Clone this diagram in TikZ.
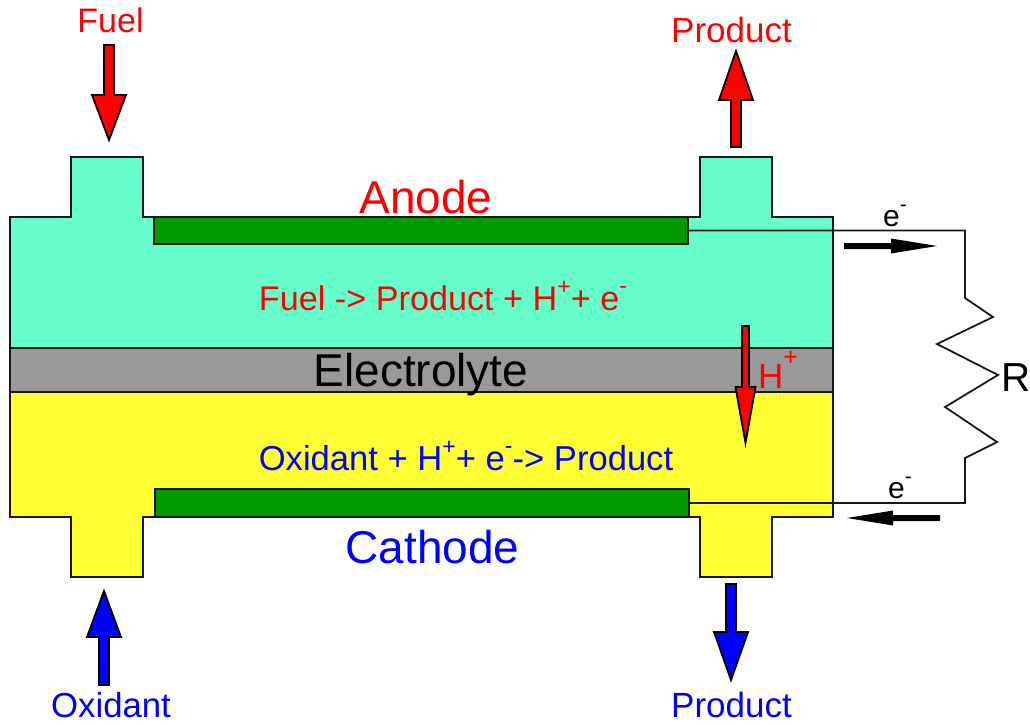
\documentclass[tikz,border=0pt]{standalone}
\usepackage{fontspec}
\setmainfont{Liberation Sans}
\definecolor{aquafill}{RGB}{102,255,204}
\definecolor{yellowfill}{RGB}{255,255,51}
\definecolor{grayfill}{RGB}{153,153,153}
\definecolor{greenfill}{RGB}{0,153,0}
\definecolor{flowblue}{RGB}{0,0,255}
\definecolor{flowred}{RGB}{255,0,0}
\newcommand{\fsz}[1]{\fontsize{#1}{#1}\selectfont}
% raised small text: raise, size, text
\newcommand{\sups}[3]{\raisebox{#1pt}{\fsz{#2}#3}}
% vertical block arrow: colour, x, tail y, neck y, tip y, shaft half-width, head half-width
\newcommand{\varrow}[7]{\draw[blockline,fill=#1] (#2-#6,#3) -- (#2+#6,#3) -- (#2+#6,#4) -- (#2+#7,#4) -- (#2,#5) -- (#2-#7,#4) -- (#2-#6,#4) -- cycle;}
% horizontal block arrow: y, tail x, neck x, tip x, shaft half-width, head half-width
\newcommand{\harrow}[6]{\fill (#2,#1-#5) -- (#3,#1-#5) -- (#3,#1-#6) -- (#4,#1) -- (#3,#1+#6) -- (#3,#1+#5) -- (#2,#1+#5) -- cycle;}
\tikzset{
  blockline/.style={draw=black,line width=1.8pt,line join=miter},
  panel/.style={draw=black!90,line width=1.8pt,line join=miter,outer sep=0pt},
  wire/.style={draw=black!90,line width=1.8pt,line join=miter},
  txt/.style={inner sep=0pt,anchor=base},
}
\begin{document}
\begin{tikzpicture}[x=1pt,y=-1pt]
\useasboundingbox (0,0) rectangle (1030,725);
% bodies
\draw[panel,fill=aquafill] (10,348) -- (10,217) -- (71,217) -- (71,157) -- (143,157) -- (143,217) -- (700,217) -- (700,157) -- (772,157) -- (772,217) -- (833,217) -- (833,348) -- cycle;
\draw[panel,fill=yellowfill] (10,392) -- (10,517) -- (71,517) -- (71,577) -- (143,577) -- (143,517) -- (700,517) -- (700,577) -- (772,577) -- (772,517) -- (833,517) -- (833,392) -- cycle;
\node[panel,fill=grayfill,minimum width=823pt,minimum height=44pt,inner sep=0pt,anchor=north west] (electrolyte) at (10,348) {};
\node[panel,fill=greenfill,minimum width=534pt,minimum height=27pt,inner sep=0pt,anchor=north west] (anodeplate) at (154,217) {};
\node[panel,fill=greenfill,minimum width=534pt,minimum height=28pt,inner sep=0pt,anchor=north west] (cathodeplate) at (155,489) {};
% circuit
\coordinate (wa) at (anodeplate.east);
\coordinate (wc) at (cathodeplate.east);
\draw[wire] (wa) -- (965,230.5) -- (965,298) -- (993,317) -- (937,344) -- (998,375) -- (945,407) -- (997,442) -- (965,458) -- (965,503) -- (wc);
% arrows
\varrow{flowred}{109}{45}{95}{140}{5}{17}
\varrow{flowred}{736}{147}{100}{51}{5}{17}
\varrow{flowblue}{104}{685}{637}{591}{5}{17}
\varrow{flowblue}{731}{584}{632}{680}{5}{17}
\varrow{flowred}{745.5}{326}{387}{443}{3.5}{10}
\harrow{246}{844}{891}{937}{3}{7.5}
\harrow{518}{940}{893}{847}{3}{7.5}
% labels
\node[txt,text=flowred] (fuel) at (110.5,33) {\fsz{34}Fuel};
\node[txt,text=flowred] (prodtop) at (731.5,43) {\fsz{35}Product};
\node[txt,text=flowred] (anode) at (426,213) {\fsz{46}Anode};
\node[txt,text=flowred] (anodeeq) at (443,310) {\fsz{34.2}Fuel -> Product + H\sups{16}{23}{+}+ e\sups{17}{23}{-}};
\node[txt] (electext) at (421,386) {\fsz{46}Electrolyte};
\node[txt,text=flowred] (hplus) at (778,388) {\fsz{35}H\sups{23}{25}{+}};
\node[txt,text=flowblue] (cathodeeq) at (466,470) {\fsz{34.6}Oxidant + H\sups{16}{23}{+}+ e\sups{17}{23}{-}-> Product};
\node[txt,text=flowblue] (cathode) at (432.5,563) {\fsz{46}Cathode};
\node[txt,text=flowblue] (oxidant) at (111,717.5) {\fsz{34.7}Oxidant};
\node[txt,text=flowblue] (prodbot) at (731.5,717.5) {\fsz{35}Product};
\node[txt] (etop) at (895,226) {\fsz{30}e\sups{15}{21}{-}};
\node[txt] (ebot) at (900,498) {\fsz{30}e\sups{15}{21}{-}};
\node[inner sep=0pt,anchor=base west] (rlabel) at (1001,391) {\fsz{40.5}R};
\end{tikzpicture}
\end{document}
